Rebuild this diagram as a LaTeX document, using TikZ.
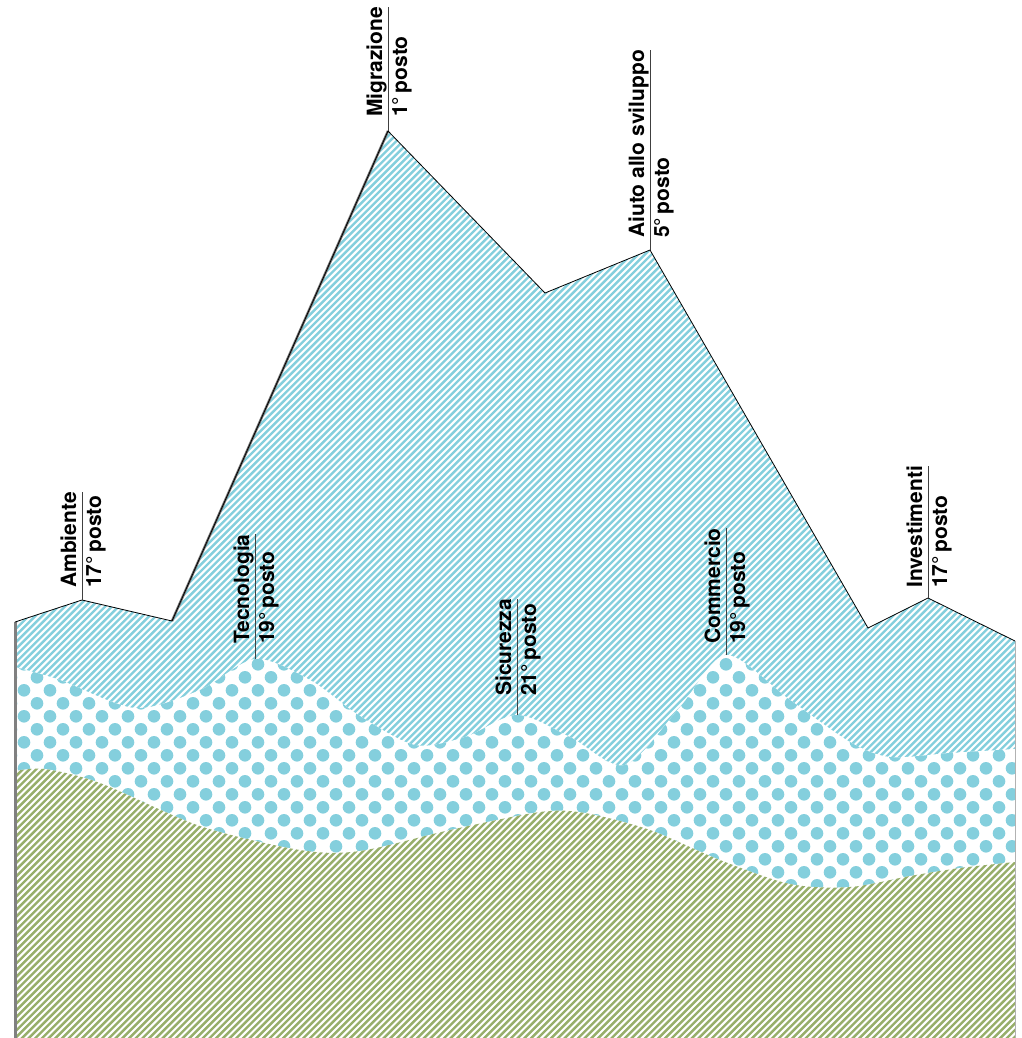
\documentclass[tikz,border=0pt]{standalone}
\usepackage{fontspec}
\setmainfont{TeX Gyre Heros}
\usetikzlibrary{calc}
\definecolor{sky}{RGB}{132,207,221}
\definecolor{moss}{RGB}{151,174,106}

\tikzset{
  label/.style={rotate=90, anchor=base west, inner sep=0pt, font=\bfseries\fontsize{21}{21}\selectfont},
  hatch/.style={line width=2.4pt},
  tick/.style={line width=0.7pt, black!75},
}

\begin{document}
\begin{tikzpicture}[x=1pt,y=-1pt]
\useasboundingbox (0,0) rectangle (1021,1038);
% ridge of the chart
\coordinate (p0) at (15,622);
\coordinate (amb) at (82,600);
\coordinate (p2) at (172,621);
\coordinate (mig) at (388,131);
\coordinate (p4) at (545,293);
\coordinate (aiu) at (650,250);
\coordinate (p6) at (868,628);
\coordinate (inv) at (928,598);
\coordinate (p8) at (1015,641);
% tops of the dotted band
\coordinate (tec) at (255,659);
\coordinate (sic) at (517,715);
\coordinate (com) at (726,655);

% blue stripes
\begin{scope}
\clip (p0) -- (amb) -- (p2) -- (mig) -- (p4) -- (aiu) -- (p6) -- (inv) -- (p8) -- (1015,1038) -- (15,1038) -- cycle;
\foreach \i in {-160,...,155} \draw[hatch, sky] (\i*6.7,1040) -- ++(1045,-1045);
\end{scope}

% dotted band
\begin{scope}
\clip plot[smooth] coordinates {(15,667) (60,680) (135,708) (200,690) (tec) (310,680) (360,716) (415,745) (465,737) (sic) (570,737) (625,765) (680,707) (com) (790,700) (850,742) (890,757) (950,753) (1015,749)} -- (1015,1038) -- (15,1038) -- cycle;
\fill[white] (0,600) rectangle (1021,1038);
\foreach \j [evaluate=\j as \off using {13*mod(\j+20,2)}] in {-10,...,10}
  \foreach \i in {0,...,40}
    \fill[sky] (-2+\i*26+\off, 768.3+\j*13) circle [radius=6.3];
\end{scope}

% green stripes
\begin{scope}
\clip plot[smooth] coordinates {(15,771) (45,769) (100,783) (200,826) (300,850) (360,851) (450,830) (540,812) (585,813) (650,830) (720,860) (790,884) (850,887) (910,876) (960,868) (1015,862)} -- (1015,1038) -- (15,1038) -- cycle;
\fill[white] (0,700) rectangle (1021,1038);
\foreach \i in {-160,...,155} \draw[hatch, moss] (\i*6.7,1040) -- ++(1045,-1045);
\end{scope}

% edges
\draw[gray, line width=3pt] (p0) -- (p0 |- 0,1038);
\draw[gray!60, line width=0.8pt] (p8) -- (p8 |- 0,1038);
\draw[black!55, line width=2.5pt] (p2) -- (mig);
\draw[line width=0.8pt] (p0) -- (amb) -- (p2) -- (mig) -- (p4) -- (aiu) -- (p6) -- (inv) -- (p8);

% labels
\foreach \pk/\gap/\name/\rank in {amb/12/Ambiente/17, tec/15/Tecnologia/19, mig/14/Migrazione/1, sic/19/Sicurezza/21, aiu/12/Aiuto allo sviluppo/5, com/11/Commercio/19, inv/10/Investimenti/17} {
  \node[label] (\pk-n) at ($(\pk)+(-6,-\gap)$) {\name};
  \node[label] (\pk-r) at ($(\pk)+(19,-\gap)$) {\rank°\,posto};
  \draw[tick] (\pk) -- (\pk |- \pk-n.east);
}
\end{tikzpicture}
\end{document}
